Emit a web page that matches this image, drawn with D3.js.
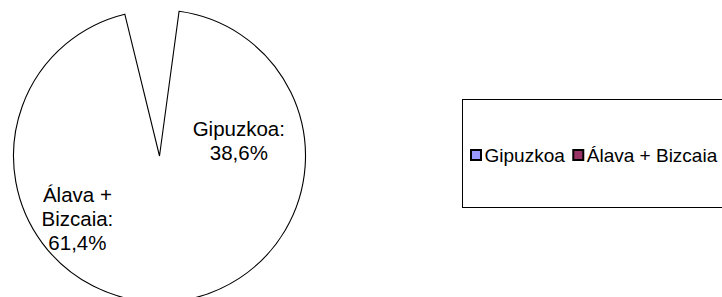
<!DOCTYPE html>
<html>
<head>
<meta charset="utf-8">
<script src="https://cdn.jsdelivr.net/npm/d3@7"></script>
<style>
  html, body { margin: 0; padding: 0; background: #fff; }
  svg { display: block; font-family: Arial, "Liberation Sans", sans-serif; }
</style>
</head>
<body>
<div id="chart"></div>
<script>
/* --- データ --- */
const categories = ["Gipuzkoa", "Álava + Bizcaia"];
const shares = [38.6, 61.4];
const legendColors = ["#9999FF", "#993366"];

/* --- ビューポート --- */
const width = 722, height = 297;
const center = { x: 159.5, y: 156 };
const radius = 146;
const deg = Math.PI / 180;
// ラベル位置の微調整
const labelNudge = [[2.5, 8], [-11, 25]];

const svg = d3.select("#chart").append("svg")
  .attr("width", width)
  .attr("height", height);

const g = svg.append("g")
  .attr("transform", `translate(${center.x},${center.y})`);

const pie = d3.pie()
  .sort(null)
  .startAngle(7.7 * deg)
  .endAngle(346.25 * deg);

const arcs = pie(shares);
const arc = d3.arc().innerRadius(0).outerRadius(radius);
const labelArc = d3.arc().innerRadius(radius * 0.55).outerRadius(radius * 0.55);

// スライス（白）
g.selectAll(".slice")
  .data(arcs)
  .enter()
  .append("path")
  .attr("class", "slice")
  .attr("d", arc)
  .attr("fill", "#fff");

// 外形線
g.append("path")
  .attr("d", arc({ startAngle: arcs[0].startAngle, endAngle: arcs[arcs.length - 1].endAngle }))
  .attr("fill", "none")
  .attr("stroke", "#000")
  .attr("stroke-width", 1.1)
  .attr("stroke-linejoin", "miter");

// ラベル
const fmt = (v) => v.toFixed(1).replace(".", ",") + "%";
const lineH = 24;

arcs.forEach((d, i) => {
  const c = labelArc.centroid(d);
  const cx = c[0] + labelNudge[i][0];
  const cy = c[1] + labelNudge[i][1];

  const t = g.append("text")
    .attr("text-anchor", "middle")
    .attr("font-size", "20.5px")
    .attr("fill", "#000");

  // 折り返し
  const words = (categories[i] + ":").split(" ");
  const lines = [];
  let cur = "";
  const probe = t.append("tspan");
  words.forEach((w) => {
    const test = cur ? cur + " " + w : w;
    probe.text(test);
    if (probe.node().getComputedTextLength() > 100 && cur) {
      lines.push(cur);
      cur = w;
    } else {
      cur = test;
    }
  });
  lines.push(cur);
  probe.remove();
  lines.push(fmt(shares[i]));

  const y0 = cy - ((lines.length - 1) * lineH) / 2 + 7.2;
  lines.forEach((l, k) => {
    t.append("tspan")
      .attr("x", cx)
      .attr("y", y0 + k * lineH)
      .text(l);
  });
});

/* --- 凡例 --- */
const legend = svg.append("g");
legend.append("rect")
  .attr("x", 462.5)
  .attr("y", 99.5)
  .attr("width", 300)
  .attr("height", 108)
  .attr("fill", "#fff")
  .attr("stroke", "#000")
  .attr("stroke-width", 1);

let lx = 470;
categories.forEach((name, i) => {
  legend.append("rect")
    .attr("x", lx + 1)
    .attr("y", 150)
    .attr("width", 10)
    .attr("height", 10)
    .attr("fill", legendColors[i])
    .attr("stroke", "#000")
    .attr("stroke-width", 2);
  const txt = legend.append("text")
    .attr("x", lx + 14.5)
    .attr("y", 161.5)
    .attr("font-size", "19px")
    .attr("fill", "#000")
    .text(name);
  lx += 14.5 + txt.node().getComputedTextLength() + 7.5;
});
</script>
</body>
</html>
